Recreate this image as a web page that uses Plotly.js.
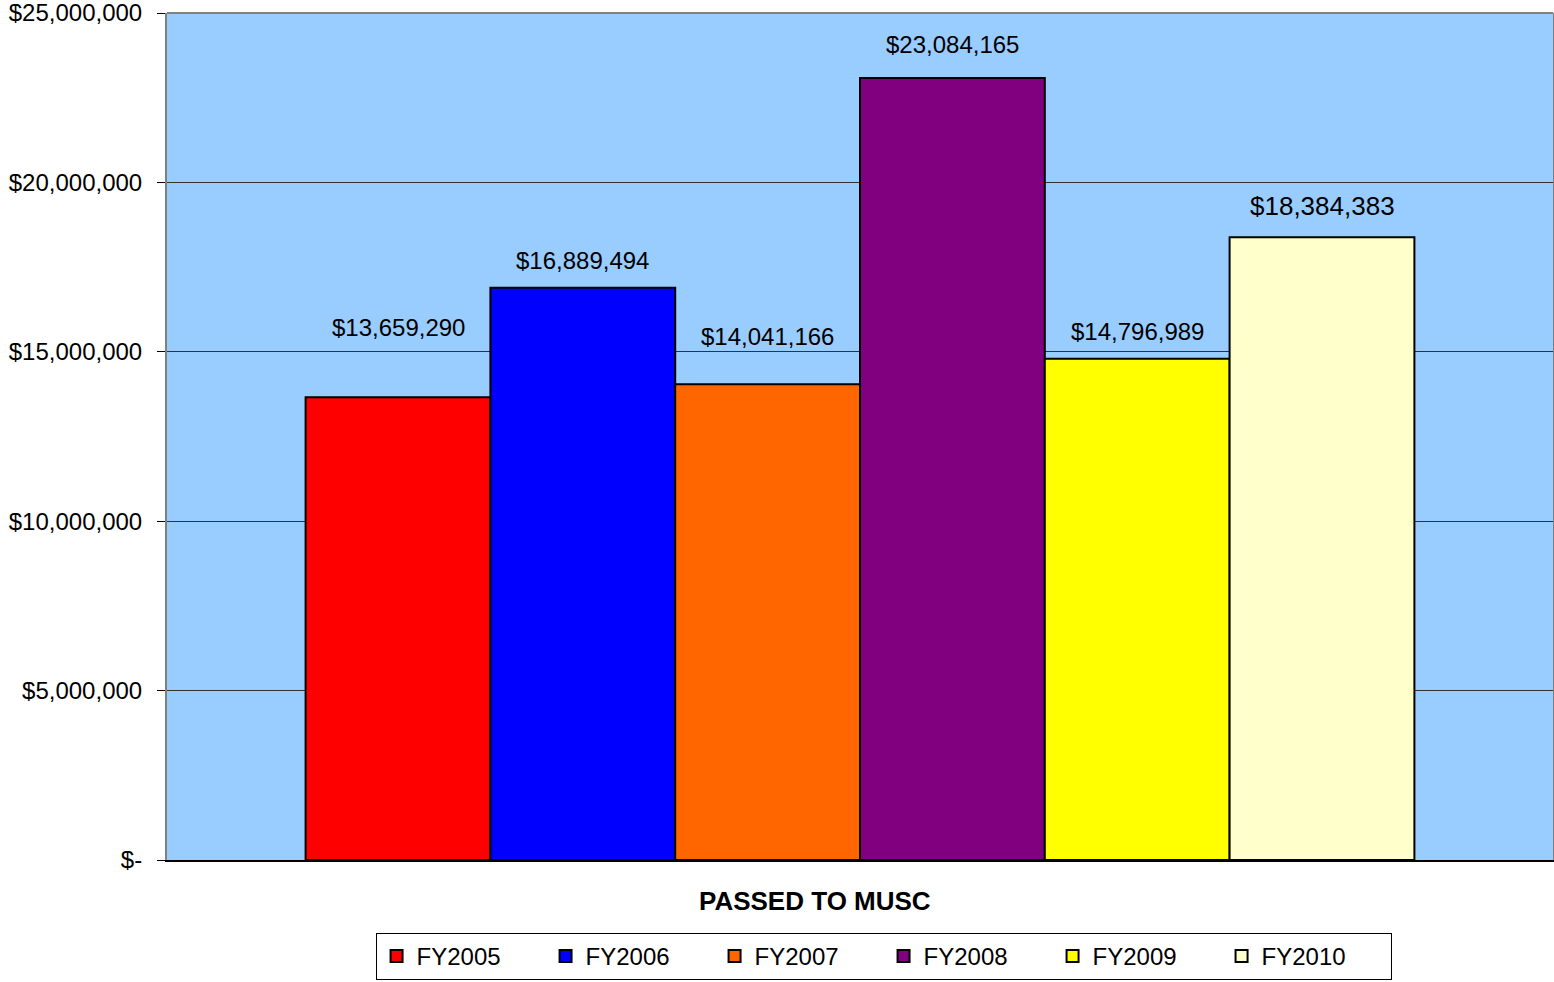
<!DOCTYPE html>
<html>
<head>
<meta charset="utf-8">
<script src="https://cdn.plot.ly/plotly-3.0.1.min.js"></script>
<style>html,body{margin:0;padding:0;background:#fff;}#chart{width:1554px;height:982px;}</style>
</head>
<body>
<div id="chart"></div>
<script>
const category = ["PASSED TO MUSC"];
const seriesNames = ["FY2005", "FY2006", "FY2007", "FY2008", "FY2009", "FY2010"];
const seriesValues = [13659290, 16889494, 14041166, 23084165, 14796989, 18384383];
const seriesColors = ["#FF0000", "#0000FF", "#FF6600", "#800080", "#FFFF00", "#FFFFCC"];
const tickVals = [0, 5000000, 10000000, 15000000, 20000000, 25000000];
const tickText = ["$-", "$5,000,000", "$10,000,000", "$15,000,000", "$20,000,000", "$25,000,000"];
// label offsets (px) above bar tops, as in the reference
const labelShift = [54, 12, 32, 18, 12, 14];
const labelSize = [24, 24, 24, 24, 24, 26];

const fmt = v => "$" + v.toLocaleString("en-US");
const FONT = "Liberation Sans, Arial, sans-serif";

const traces = seriesNames.map((n, i) => ({
  type: "bar",
  name: n,
  x: category,
  y: [seriesValues[i]],
  marker: {color: seriesColors[i], line: {color: "#000", width: 2}},
  hoverinfo: "none"
}));

const annotations = seriesValues.map((v, i) => ({
  x: -0.4 + 0.8 / seriesNames.length * (i + 0.5),
  y: v,
  xref: "x",
  yref: "y",
  text: fmt(v),
  showarrow: false,
  yanchor: "bottom",
  yshift: labelShift[i],
  font: {family: FONT, size: labelSize[i], color: "#000"}
}));

annotations.push({
  x: 0.4675, y: -0.0484, xref: "paper", yref: "paper",
  xanchor: "center", yanchor: "middle",
  text: "<b>" + category[0] + "</b>",
  showarrow: false,
  font: {family: FONT, size: 26, color: "#000"}
});

const layout = {
  width: 1554,
  height: 982,
  margin: {l: 167, r: 1, t: 13, b: 122, autoexpand: false},
  paper_bgcolor: "#FFFFFF",
  plot_bgcolor: "#99CCFF",
  barmode: "group",
  bargap: 0.2,
  bargroupgap: 0,
  font: {family: FONT, color: "#000"},
  xaxis: {
    type: "category",
    range: [-0.5, 0.5],
    showticklabels: false,
    ticks: "",
    showline: true,
    linecolor: "#000",
    linewidth: 2,
    showgrid: false,
    zeroline: false,
    automargin: false
  },
  yaxis: {
    range: [0, 25000000],
    tickvals: tickVals,
    ticktext: tickText,
    ticks: "outside",
    ticklen: 8,
    tickcolor: "#000",
    ticklabelstandoff: 10,
    ticklabeloverflow: "allow",
    tickfont: {family: FONT, size: 24, color: "#000"},
    showline: true,
    linecolor: "#808080",
    linewidth: 2,
    mirror: true,
    showgrid: true,
    gridcolor: "#333",
    gridwidth: 1,
    zeroline: false,
    automargin: false
  },
  showlegend: true,
  legend: {
    orientation: "h",
    x: 0.517,
    xanchor: "center",
    y: -0.0862,
    yanchor: "top",
    bordercolor: "#000",
    borderwidth: 1,
    font: {family: FONT, size: 24, color: "#000"},
    entrywidth: 124,
    itemwidth: 30,
    traceorder: "normal"
  },
  shapes: [
    {type: "line", xref: "paper", yref: "paper", x0: 0, x1: 1, y0: 1, y1: 1, line: {color: "#808080", width: 2}, layer: "above"}
  ],
  annotations: annotations
};

Plotly.newPlot("chart", traces, layout, {displayModeBar: false, staticPlot: true});
</script>
</body>
</html>
